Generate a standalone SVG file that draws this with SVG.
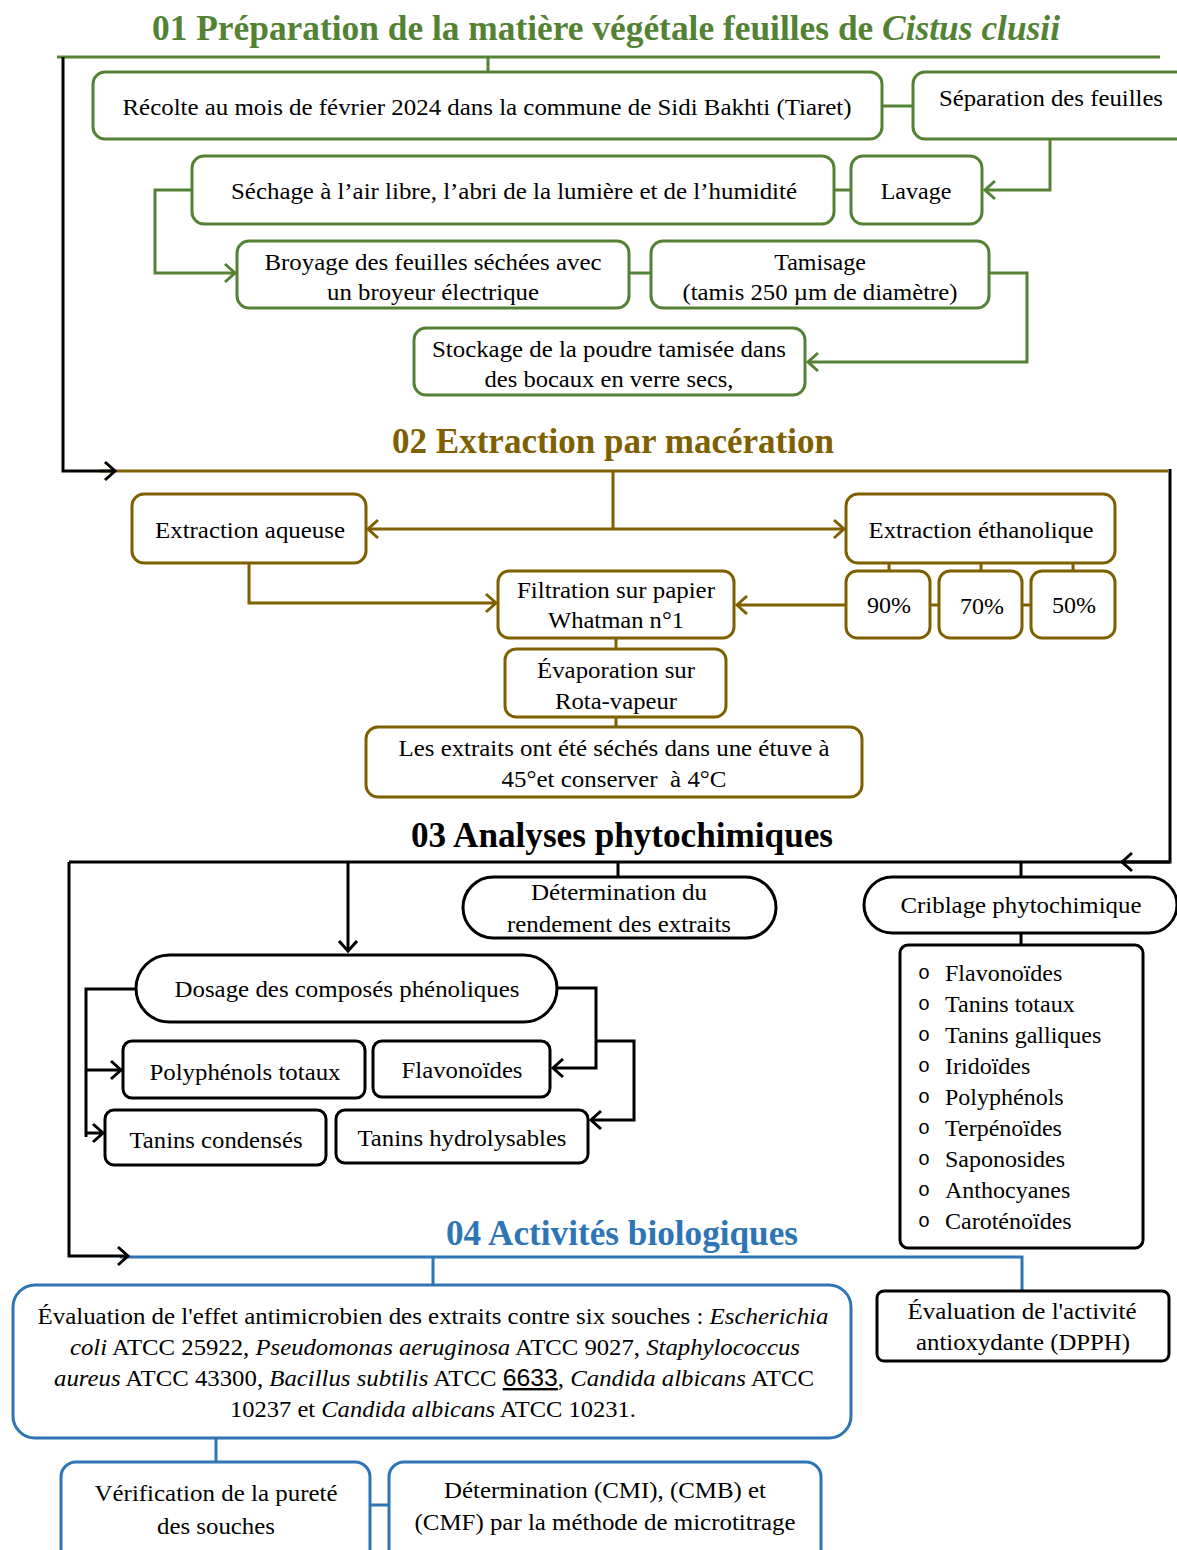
<svg xmlns="http://www.w3.org/2000/svg" width="1177" height="1550" viewBox="0 0 1177 1550">
<style>
.ln{fill:none;stroke-width:3}
.g{stroke:#548235}
.b{stroke:#7f6000}
.k{stroke:#000}
.u{stroke:#2e75b6}
.box{fill:#fff;stroke-width:3}
.t{font-family:"Liberation Serif","Times New Roman",serif;font-size:24px;fill:#000;text-anchor:middle}
.tl{font-family:"Liberation Serif","Times New Roman",serif;font-size:24px;fill:#000}
.h{font-family:"Liberation Serif","Times New Roman",serif;font-size:35px;font-weight:bold;text-anchor:middle}
.i{font-style:italic}
.bul{font-family:"Liberation Mono","Courier New",monospace;font-size:20px}
.num{font-family:"Liberation Sans",Arial,sans-serif;text-decoration:underline dotted #999}
</style>
<defs>
<marker id="ag" markerUnits="userSpaceOnUse" markerWidth="16" markerHeight="22" refX="12" refY="11" orient="auto"><path d="M2,2 L12,11 L2,20" fill="none" stroke="#548235" stroke-width="3"/></marker>
<marker id="ab" markerUnits="userSpaceOnUse" markerWidth="16" markerHeight="22" refX="12" refY="11" orient="auto"><path d="M2,2 L12,11 L2,20" fill="none" stroke="#7f6000" stroke-width="3"/></marker>
<marker id="ak" markerUnits="userSpaceOnUse" markerWidth="16" markerHeight="22" refX="12" refY="11" orient="auto"><path d="M2,2 L12,11 L2,20" fill="none" stroke="#000" stroke-width="3"/></marker>
</defs>
<rect width="1177" height="1550" fill="#fff"/>

<!-- titles -->
<text class="h" x="606" y="40" fill="#548235" textLength="908" lengthAdjust="spacingAndGlyphs">01 Préparation de la matière végétale feuilles de <tspan class="i">Cistus clusii</tspan></text>
<text class="h" x="613" y="453" fill="#7f6000" textLength="442" lengthAdjust="spacingAndGlyphs">02 Extraction par macération</text>
<text class="h" x="622" y="847" fill="#000" textLength="422" lengthAdjust="spacingAndGlyphs">03 Analyses phytochimiques</text>
<text class="h" x="622" y="1245" fill="#2e75b6" textLength="352" lengthAdjust="spacingAndGlyphs">04 Activités biologiques</text>

<g id="connectors">
<path class="ln g" d="M57,57 H1160"/>
<path class="ln g" d="M488,57 V72"/>
<path class="ln g" d="M882,106 H913"/>
<path class="ln g" d="M1050,139 V190 H985" marker-end="url(#ag)"/>
<path class="ln g" d="M834,190 H851"/>
<path class="ln g" d="M192,190 H155 V273 H235" marker-end="url(#ag)"/>
<path class="ln g" d="M629,273 H651"/>
<path class="ln g" d="M989,273 H1027 V362 H808" marker-end="url(#ag)"/>
<path class="ln b" d="M100,471 H1168"/>
<path class="ln k" d="M63,57 V471 H115" marker-end="url(#ak)"/>
<path class="ln b" d="M613,471 V529"/>
<path class="ln b" d="M613,529 H368" marker-end="url(#ab)"/>
<path class="ln b" d="M613,529 H844" marker-end="url(#ab)"/>
<path class="ln b" d="M889,563 V571 M981,563 V571 M1073,563 V571"/>
<path class="ln b" d="M930,605 H939 M1022,605 H1031"/>
<path class="ln b" d="M846,605 H737" marker-end="url(#ab)"/>
<path class="ln b" d="M249,563 V603 H496" marker-end="url(#ab)"/>
<path class="ln b" d="M616,638 V649 M616,717 V727"/>
<path class="ln k" d="M69,862 H1170"/>
<path class="ln k" d="M1170,469 V862 H1122" marker-end="url(#ak)"/>
<path class="ln k" d="M348,862 V951" marker-end="url(#ak)"/>
<path class="ln k" d="M618,862 V877 M1021,862 V877 M1021,933 V945"/>
<path class="ln u" d="M120,1257 H1022 V1291"/>
<path class="ln k" d="M69,862 V1256 H128" marker-end="url(#ak)"/>
<path class="ln k" d="M136,989 H86 V1137"/>
<path class="ln k" d="M86,1070 H121" marker-end="url(#ak)"/>
<path class="ln k" d="M86,1133 H103" marker-end="url(#ak)"/>
<path class="ln k" d="M557,988 H596 V1068 H553" marker-end="url(#ak)"/>
<path class="ln k" d="M596,1041 H634 V1120 H591" marker-end="url(#ak)"/>
<path class="ln u" d="M433,1257 V1285 M216,1438 V1462 M370,1505 H389"/>
</g>

<!-- Section 01 -->
<g id="recolte"><rect class="box g" x="93" y="72" width="789" height="67" rx="12"/><text class="t" x="487" y="115" textLength="729" lengthAdjust="spacingAndGlyphs">Récolte au mois de février 2024 dans la commune de Sidi Bakhti (Tiaret)</text></g>
<g id="separation"><rect class="box g" x="913" y="72" width="280" height="67" rx="12"/><text class="tl" x="939" y="106" textLength="224" lengthAdjust="spacingAndGlyphs">Séparation des feuilles</text></g>
<g id="sechage"><rect class="box g" x="192" y="156" width="642" height="68" rx="12"/><text class="t" x="514" y="199" textLength="566" lengthAdjust="spacingAndGlyphs">Séchage à l’air libre, l’abri de la lumière et de l’humidité</text></g>
<g id="lavage"><rect class="box g" x="851" y="156" width="131" height="68" rx="12"/><text class="t" x="916" y="199">Lavage</text></g>
<g id="broyage"><rect class="box g" x="237" y="241" width="392" height="67" rx="12"/><text class="t" x="433" y="270" textLength="337" lengthAdjust="spacingAndGlyphs">Broyage des feuilles séchées avec</text><text class="t" x="433" y="300" textLength="212" lengthAdjust="spacingAndGlyphs">un broyeur électrique</text></g>
<g id="tamisage"><rect class="box g" x="651" y="241" width="338" height="67" rx="12"/><text class="t" x="820" y="270">Tamisage</text><text class="t" x="820" y="300" textLength="275" lengthAdjust="spacingAndGlyphs">(tamis 250 µm de diamètre)</text></g>
<g id="stockage"><rect class="box g" x="414" y="328" width="391" height="67" rx="12"/><text class="t" x="609" y="357" textLength="354" lengthAdjust="spacingAndGlyphs">Stockage de la poudre tamisée dans</text><text class="t" x="609" y="387" textLength="249" lengthAdjust="spacingAndGlyphs">des bocaux en verre secs,</text></g>

<!-- Section 02 -->
<g id="aqueuse"><rect class="box b" x="132" y="494" width="234" height="69" rx="12"/><text class="t" x="250" y="538" textLength="190" lengthAdjust="spacingAndGlyphs">Extraction aqueuse</text></g>
<g id="ethanolique"><rect class="box b" x="846" y="494" width="269" height="69" rx="12"/><text class="t" x="981" y="538" textLength="225" lengthAdjust="spacingAndGlyphs">Extraction éthanolique</text></g>
<g id="p90"><rect class="box b" x="846" y="571" width="84" height="67" rx="11"/><text class="t" x="889" y="613">90%</text></g>
<g id="p70"><rect class="box b" x="939" y="571" width="83" height="67" rx="11"/><text class="t" x="982" y="614">70%</text></g>
<g id="p50"><rect class="box b" x="1031" y="571" width="84" height="67" rx="11"/><text class="t" x="1074" y="613">50%</text></g>
<g id="filtration"><rect class="box b" x="498" y="571" width="236" height="67" rx="11"/><text class="t" x="616" y="598" textLength="198" lengthAdjust="spacingAndGlyphs">Filtration sur papier</text><text class="t" x="616" y="628" textLength="136" lengthAdjust="spacingAndGlyphs">Whatman n°1</text></g>
<g id="evaporation"><rect class="box b" x="505" y="649" width="221" height="68" rx="11"/><text class="t" x="616" y="678" textLength="158" lengthAdjust="spacingAndGlyphs">Évaporation sur</text><text class="t" x="616" y="709" textLength="122" lengthAdjust="spacingAndGlyphs">Rota-vapeur</text></g>
<g id="sechage-etuve"><rect class="box b" x="366" y="727" width="496" height="70" rx="12"/><text class="t" x="614" y="756" textLength="431" lengthAdjust="spacingAndGlyphs">Les extraits ont été séchés dans une étuve à</text><text class="t" x="614" y="787" textLength="225" lengthAdjust="spacingAndGlyphs" xml:space="preserve">45°et conserver  à 4°C</text></g>

<!-- Section 03 -->
<g id="rendement"><rect class="box k" x="463" y="877" width="313" height="61" rx="30.5"/><text class="t" x="619" y="900" textLength="176" lengthAdjust="spacingAndGlyphs">Détermination du</text><text class="t" x="619" y="932" textLength="224" lengthAdjust="spacingAndGlyphs">rendement des extraits</text></g>
<g id="criblage"><rect class="box k" x="864" y="877" width="313" height="56" rx="28"/><text class="t" x="1021" y="913" textLength="241" lengthAdjust="spacingAndGlyphs">Criblage phytochimique</text></g>
<g id="liste"><rect class="box k" x="900" y="945" width="243" height="303" rx="8"/>
<text class="bul" x="918" y="979">o</text><text class="tl" x="945" y="981">Flavonoïdes</text>
<text class="bul" x="918" y="1010">o</text><text class="tl" x="945" y="1012">Tanins totaux</text>
<text class="bul" x="918" y="1041">o</text><text class="tl" x="945" y="1043">Tanins galliques</text>
<text class="bul" x="918" y="1072">o</text><text class="tl" x="945" y="1074">Iridoïdes</text>
<text class="bul" x="918" y="1103">o</text><text class="tl" x="945" y="1105">Polyphénols</text>
<text class="bul" x="918" y="1134">o</text><text class="tl" x="945" y="1136">Terpénoïdes</text>
<text class="bul" x="918" y="1165">o</text><text class="tl" x="945" y="1167">Saponosides</text>
<text class="bul" x="918" y="1196">o</text><text class="tl" x="945" y="1198">Anthocyanes</text>
<text class="bul" x="918" y="1227">o</text><text class="tl" x="945" y="1229">Caroténoïdes</text>
</g>
<g id="dosage"><rect class="box k" x="136" y="955" width="421" height="67" rx="33.5"/><text class="t" x="347" y="997" textLength="345" lengthAdjust="spacingAndGlyphs">Dosage des composés phénoliques</text></g>
<g id="polyphenols"><rect class="box k" x="123" y="1041" width="242" height="57" rx="9"/><text class="t" x="245" y="1080" textLength="191" lengthAdjust="spacingAndGlyphs">Polyphénols totaux</text></g>
<g id="flavonoides"><rect class="box k" x="373" y="1041" width="177" height="56" rx="9"/><text class="t" x="462" y="1078" textLength="121" lengthAdjust="spacingAndGlyphs">Flavonoïdes</text></g>
<g id="condenses"><rect class="box k" x="105" y="1110" width="221" height="55" rx="9"/><text class="t" x="216" y="1148" textLength="173" lengthAdjust="spacingAndGlyphs">Tanins condensés</text></g>
<g id="hydrolysables"><rect class="box k" x="336" y="1110" width="252" height="53" rx="9"/><text class="t" x="462" y="1146" textLength="209" lengthAdjust="spacingAndGlyphs">Tanins hydrolysables</text></g>

<!-- Section 04 -->
<g id="antimicrobien"><rect class="box u" x="13" y="1285" width="838" height="153" rx="22"/>
<text class="t" x="433" y="1324" textLength="791" lengthAdjust="spacingAndGlyphs">Évaluation de l'effet antimicrobien des extraits contre six souches : <tspan class="i">Escherichia</tspan></text>
<text class="t" x="435" y="1355" textLength="730" lengthAdjust="spacingAndGlyphs"><tspan class="i">coli</tspan> ATCC 25922, <tspan class="i">Pseudomonas aeruginosa</tspan> ATCC 9027, <tspan class="i">Staphylococcus</tspan></text>
<text class="t" x="434" y="1386" textLength="760" lengthAdjust="spacingAndGlyphs"><tspan class="i">aureus</tspan> ATCC 43300, <tspan class="i">Bacillus subtilis</tspan> ATCC <tspan class="num">6633</tspan>, <tspan class="i">Candida albicans</tspan> ATCC</text>
<text class="t" x="433" y="1417" textLength="406" lengthAdjust="spacingAndGlyphs">10237 et <tspan class="i">Candida albicans</tspan> ATCC 10231.</text>
</g>
<g id="dpph"><rect class="box k" x="877" y="1291" width="292" height="70" rx="7"/><text class="t" x="1022" y="1319" textLength="229" lengthAdjust="spacingAndGlyphs">Évaluation de l'activité</text><text class="t" x="1023" y="1350" textLength="214" lengthAdjust="spacingAndGlyphs">antioxydante (DPPH)</text></g>
<g id="purete"><rect class="box u" x="61" y="1462" width="309" height="110" rx="15"/><text class="t" x="216" y="1501" textLength="243" lengthAdjust="spacingAndGlyphs">Vérification de la pureté</text><text class="t" x="216" y="1534" textLength="118" lengthAdjust="spacingAndGlyphs">des souches</text></g>
<g id="cmi"><rect class="box u" x="389" y="1462" width="432" height="110" rx="15"/><text class="t" x="605" y="1498" textLength="322" lengthAdjust="spacingAndGlyphs">Détermination (CMI), (CMB) et</text><text class="t" x="605" y="1530" textLength="381" lengthAdjust="spacingAndGlyphs">(CMF) par la méthode de microtitrage</text></g>
</svg>
